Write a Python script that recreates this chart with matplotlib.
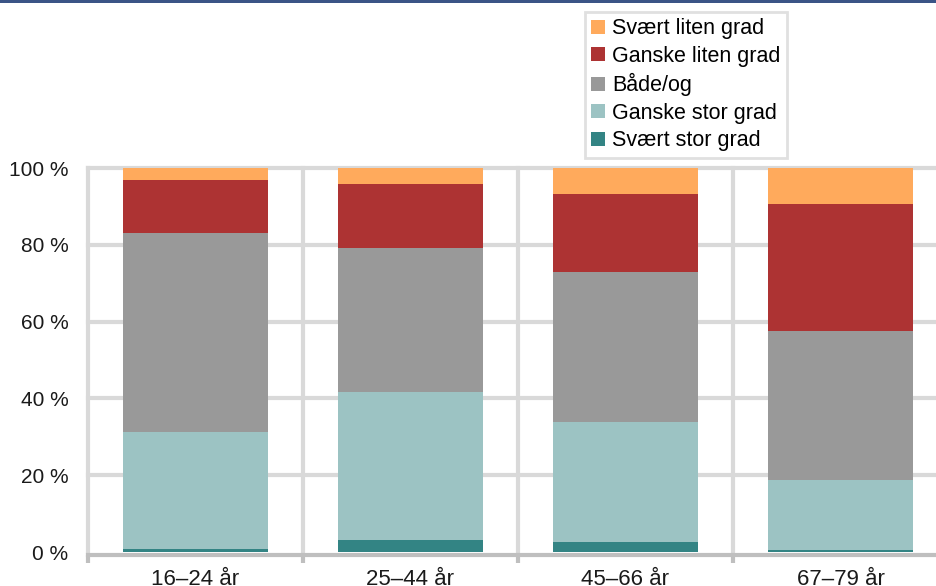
import matplotlib.pyplot as plt
from matplotlib.patches import Rectangle

plt.rcParams['font.family'] = ['Liberation Sans', 'DejaVu Sans']

# age groups and shares (%) per answer category
groups = ['16–24 år', '25–44 år', '45–66 år', '67–79 år']
svaert_stor = [0.8, 3.1, 2.6, 0.5]
ganske_stor = [30.5, 38.6, 31.3, 18.2]
baade_og = [51.8, 37.5, 39.0, 38.8]
ganske_liten = [13.8, 16.6, 20.3, 33.1]
svaert_liten = [3.1, 4.2, 6.8, 9.4]

series = [
    ('Svært stor grad', svaert_stor, '#338484'),
    ('Ganske stor grad', ganske_stor, '#9CC3C3'),
    ('Både/og', baade_og, '#999999'),
    ('Ganske liten grad', ganske_liten, '#AD3333'),
    ('Svært liten grad', svaert_liten, '#FFAA5C'),
]

fig = plt.figure(figsize=(9.37, 5.86), dpi=100)
ax = fig.add_axes([88 / 937, 34 / 586, 860 / 937, 384 / 586])

x = list(range(len(groups)))
bottom = [0.0] * len(groups)
handles = []
for name, vals, col in series:
    b = ax.bar(x, vals, width=0.67, bottom=bottom, color=col, label=name, zorder=3)
    handles.append(b)
    bottom = [bo + v for bo, v in zip(bottom, vals)]

ax.set_xlim(-0.5, len(groups) - 0.5)
ax.set_ylim(0, 100)

# grid: horizontal lines and vertical lines at category boundaries
grid_col = '#D9D9D9'
for yv in [20, 40, 60, 80, 100]:
    ax.axhline(yv, color=grid_col, lw=3, zorder=1, clip_on=False)
for xv in [-0.5, 0.5, 1.5, 2.5]:
    ax.axvline(xv, color=grid_col, lw=3, zorder=1, clip_on=False)

for s in ['top', 'right', 'left']:
    ax.spines[s].set_visible(False)
ax.spines['bottom'].set_color('#BFBFBF')
ax.spines['bottom'].set_linewidth(3)
ax.spines['bottom'].set_position(('outward', 2))

ax.set_yticks([0, 20, 40, 60, 80, 100])
ax.set_yticklabels([f'{v} %' for v in [0, 20, 40, 60, 80, 100]])
ax.tick_params(axis='y', length=0, pad=14, labelsize=15, labelcolor='#1a1a1a')

ax.set_xticks([-0.5, 0.5, 1.5, 2.5], minor=False)
ax.set_xticklabels([])
ax.set_xticks(x, minor=True)
ax.set_xticklabels(groups, minor=True)
ax.tick_params(axis='x', which='major', length=6, width=3, color='#BFBFBF')
ax.tick_params(axis='x', which='minor', length=0, pad=10, labelsize=16, labelcolor='#1a1a1a')

leg = fig.legend(handles[::-1], [s[0] for s in series][::-1],
                 loc='upper left', bbox_to_anchor=(585 / 937, 1 - 12 / 586),
                 fontsize=15.5, frameon=True, fancybox=False,
                 handlelength=0.62, handleheight=0.62, handletextpad=0.35,
                 labelspacing=0.3, borderpad=0.3, borderaxespad=0)
leg.get_frame().set_edgecolor('#D9D9D9')
leg.get_frame().set_linewidth(2)

# dark blue line at the top of the figure
fig.add_artist(Rectangle((0, 1 - 3 / 586), 1, 3 / 586, transform=fig.transFigure,
                         color='#3B5486', lw=0))

fig.savefig('out.png', dpi=100)
